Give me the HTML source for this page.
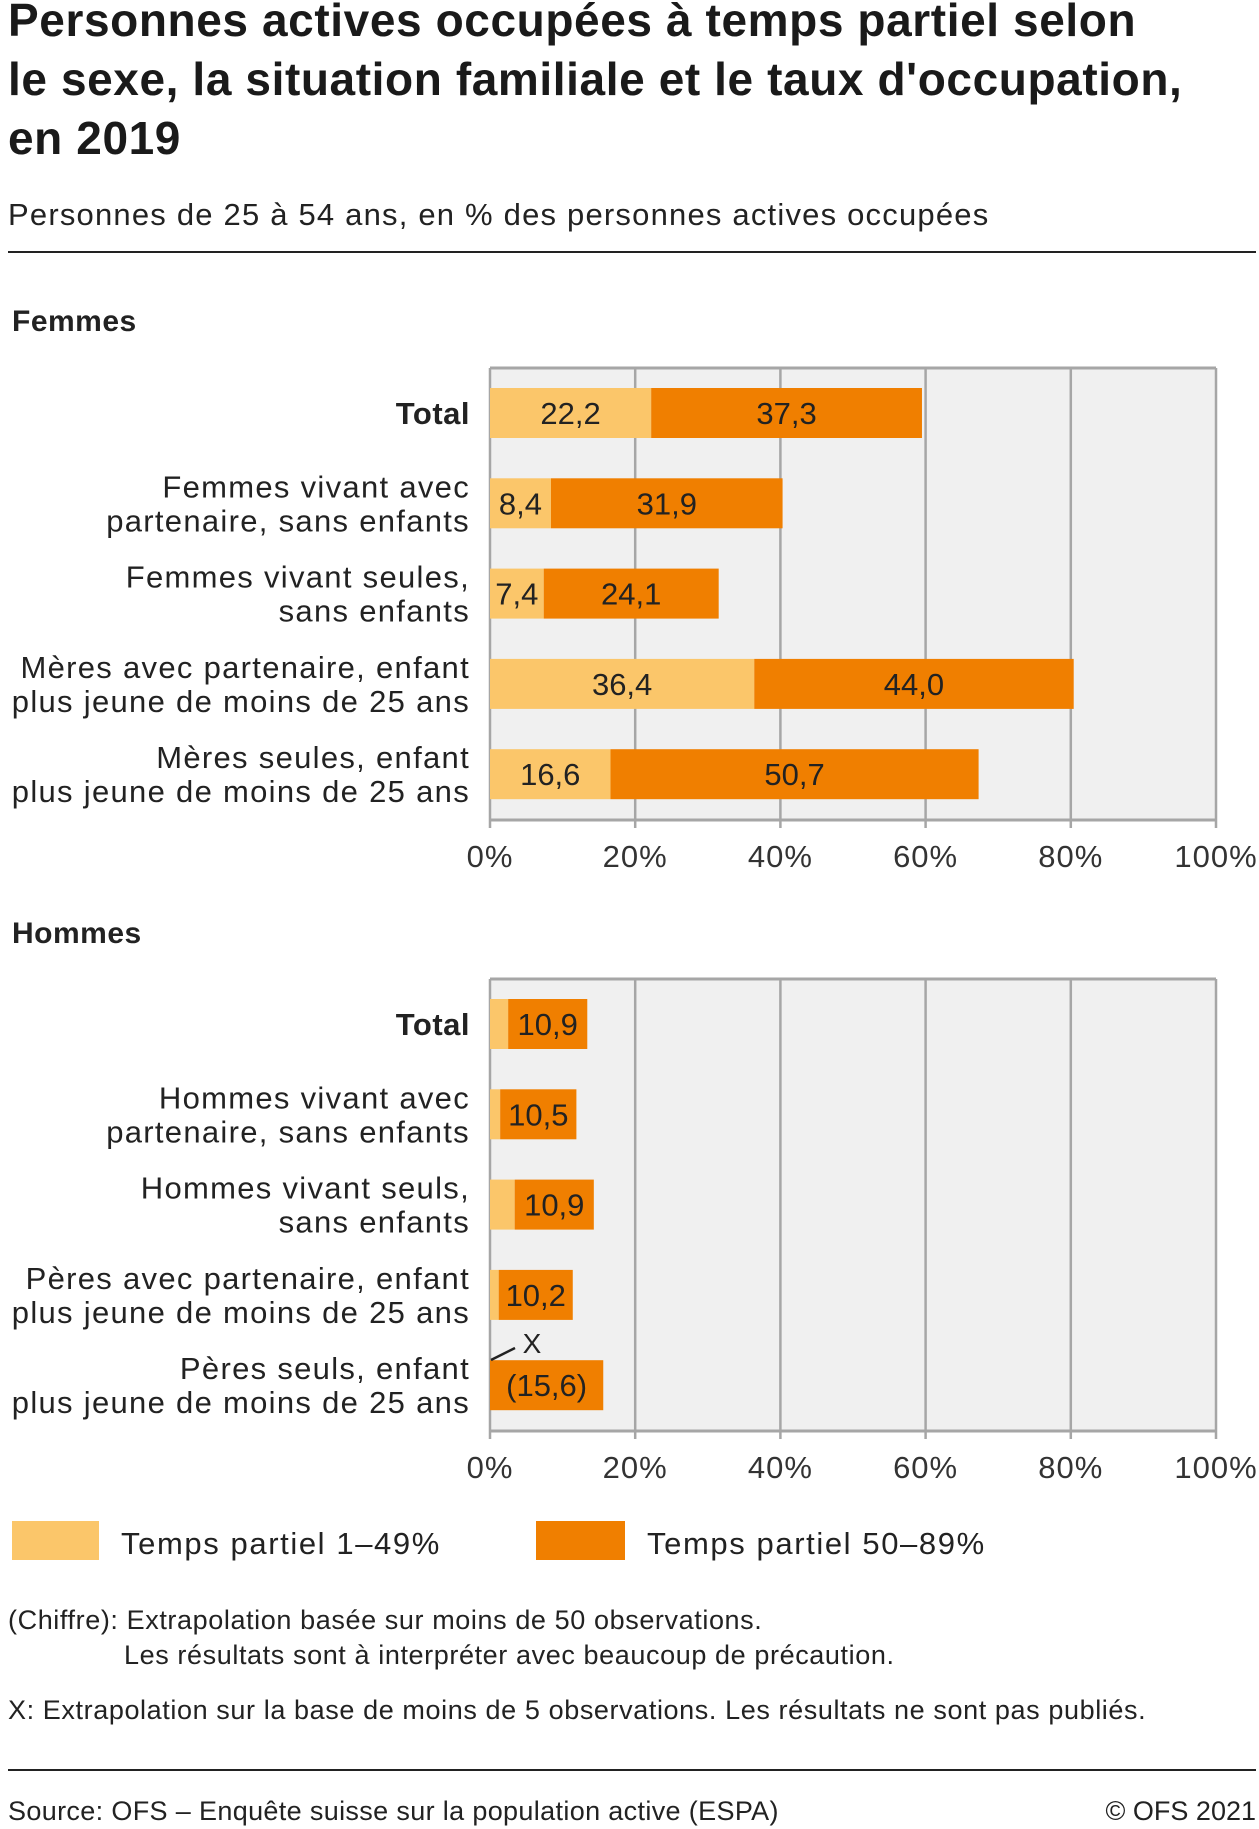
<!DOCTYPE html>
<html><head><meta charset="utf-8">
<style>
body{margin:0;background:#fff;}
svg{display:block;font-family:"Liberation Sans",sans-serif;}
</style></head>
<body>
<svg id="chart" width="1259" height="1829" viewBox="0 0 1259 1829" xmlns="http://www.w3.org/2000/svg">
<g fill="#1a1a1a" font-weight="bold" font-size="46" letter-spacing="0.6">
<text x="8" y="36">Personnes actives occupées à temps partiel selon</text>
<text x="8" y="95">le sexe, la situation familiale et le taux d'occupation,</text>
<text x="8" y="154">en 2019</text>
</g>
<text x="8" y="225" font-size="31" fill="#222" letter-spacing="1.2">Personnes de 25 à 54 ans, en % des personnes actives occupées</text>
<rect x="8" y="251" width="1248" height="2" fill="#222"/>
<text x="12" y="331" font-size="30" font-weight="bold" fill="#222" letter-spacing="0.5">Femmes</text>
<text x="12" y="943" font-size="30" font-weight="bold" fill="#222" letter-spacing="0.5">Hommes</text>
<g id="p1"></g><g id="p2"></g>
<g>
<rect x="12" y="1521" width="87" height="39" fill="#fbc66a"/>
<text x="121" y="1554" font-size="31" fill="#222" letter-spacing="1.6">Temps partiel 1–49%</text>
<rect x="536" y="1521" width="89" height="39" fill="#f07f00"/>
<text x="647" y="1554" font-size="31" fill="#222" letter-spacing="1.6">Temps partiel 50–89%</text>
</g>
<g font-size="27" fill="#222" letter-spacing="0.6">
<text x="8" y="1629">(Chiffre): Extrapolation basée sur moins de 50 observations.</text>
<text x="124" y="1664">Les résultats sont à interpréter avec beaucoup de précaution.</text>
<text x="8" y="1719">X:  Extrapolation sur la base de moins de 5 observations. Les résultats ne sont pas publiés.</text>
</g>
<rect x="8" y="1769" width="1248" height="2" fill="#222"/>
<text x="8" y="1820" font-size="27" fill="#222" letter-spacing="0.35">Source: OFS – Enquête suisse sur la population active (ESPA)</text>
<text x="1256" y="1820" font-size="27" fill="#222" text-anchor="end">© OFS 2021</text>
</svg>
<script>
const femmesCats=[["Total"],["Femmes vivant avec","partenaire, sans enfants"],["Femmes vivant seules,","sans enfants"],["Mères avec partenaire, enfant","le plus jeune de moins de 25 ans"],["Mères seules, enfant","le plus jeune de moins de 25 ans"]];
const femmesLow=[22.2,8.4,7.4,36.4,16.6];
const femmesHigh=[37.3,31.9,24.1,44.0,50.7];
const femmesLowLabels=["22,2","8,4","7,4","36,4","16,6"];
const femmesHighLabels=["37,3","31,9","24,1","44,0","50,7"];
const hommesCats=[["Total"],["Hommes vivant avec","partenaire, sans enfants"],["Hommes vivant seuls,","sans enfants"],["Pères avec partenaire, enfant","le plus jeune de moins de 25 ans"],["Pères seuls, enfant","le plus jeune de moins de 25 ans"]];
const hommesLow=[2.5,1.4,3.4,1.2,0];
const hommesHigh=[10.9,10.5,10.9,10.2,15.6];
const hommesLowLabels=["","","","",""];
const hommesHighLabels=["10,9","10,5","10,9","10,2","(15,6)"];
const ticks=[0,20,40,60,80,100];
const tickLabels=["0%","20%","40%","60%","80%","100%"];
const NS="http://www.w3.org/2000/svg";
function mk(t,a,p){const e=document.createElementNS(NS,t);for(const k in a)e.setAttribute(k,a[k]);p.appendChild(e);return e;}
function panel(g,top,cats,low,high,lowL,highL,key){
  const x0=490,x1=1216,bottom=top+452;
  const xs=v=>x0+(x1-x0)*v/100;
  const yc=i=>top+45+i*90.3;
  const bg=mk('rect',{x:x0,y:top,width:x1-x0,height:bottom-top,fill:'#f0f0f0'},g);
  
  
  ticks.forEach((t,i)=>{
    const l=mk('line',{x1:xs(t),x2:xs(t),y1:top,y2:bottom+8,stroke:'#a6a6a6','stroke-width':2.5},g);
    
    
    const tx=mk('text',{x:xs(t),y:bottom+47,'font-size':31,fill:'#333','text-anchor':'middle','letter-spacing':1},g);
    tx.textContent=tickLabels[i];
    
    
  });
  const tl=mk('line',{x1:x0,x2:x1,y1:top,y2:top,stroke:'#a6a6a6','stroke-width':3},g);
  
  
  const bl=mk('line',{x1:x0,x2:x1,y1:bottom,y2:bottom,stroke:'#a6a6a6','stroke-width':3},g);
  
  
  cats.forEach((c,i)=>{
    const y=yc(i),h=50;
    const r1=mk('rect',{x:xs(0),y:y-h/2,width:xs(low[i])-xs(0),height:h,fill:'#fbc66a'},g);
    
    
    const r2=mk('rect',{x:xs(low[i]),y:y-h/2,width:xs(low[i]+high[i])-xs(low[i]),height:h,fill:'#f07f00'},g);
    
    
    if(lowL[i]){const t=mk('text',{x:(xs(0)+xs(low[i]))/2,y:y+11,'font-size':31,fill:'#222','text-anchor':'middle'},g);t.textContent=lowL[i];
      
      }
    const t2=mk('text',{x:(xs(low[i])+xs(low[i]+high[i]))/2,y:y+11,'font-size':31,fill:'#222','text-anchor':'middle'},g);t2.textContent=highL[i];
    
    
    const bold=c.length==1;
    const lab=mk('text',{x:470,'font-size':31,fill:'#222','text-anchor':'end','font-weight':bold?'bold':'normal','letter-spacing':bold?0.5:1.3},g);
    
    
    c.forEach((s,j)=>{const ts=mk('tspan',{x:470,y:y+11+(j-(c.length-1)/2)*34},lab);ts.textContent=s;});
  });
  return {xs,yc};
}
const p1=panel(document.getElementById('p1'),368,femmesCats,femmesLow,femmesHigh,femmesLowLabels,femmesHighLabels,'femmes');
const p2=panel(document.getElementById('p2'),979,hommesCats,hommesLow,hommesHigh,hommesLowLabels,hommesHighLabels,'hommes');
const g2=document.getElementById('p2');
const ln=mk('line',{x1:491,y1:1360,x2:515,y2:1348,stroke:'#222','stroke-width':2.5},g2);


const xt=mk('text',{x:532,y:1353,'font-size':28,fill:'#222','text-anchor':'middle'},g2);xt.textContent='X';


</script>
</body></html>
